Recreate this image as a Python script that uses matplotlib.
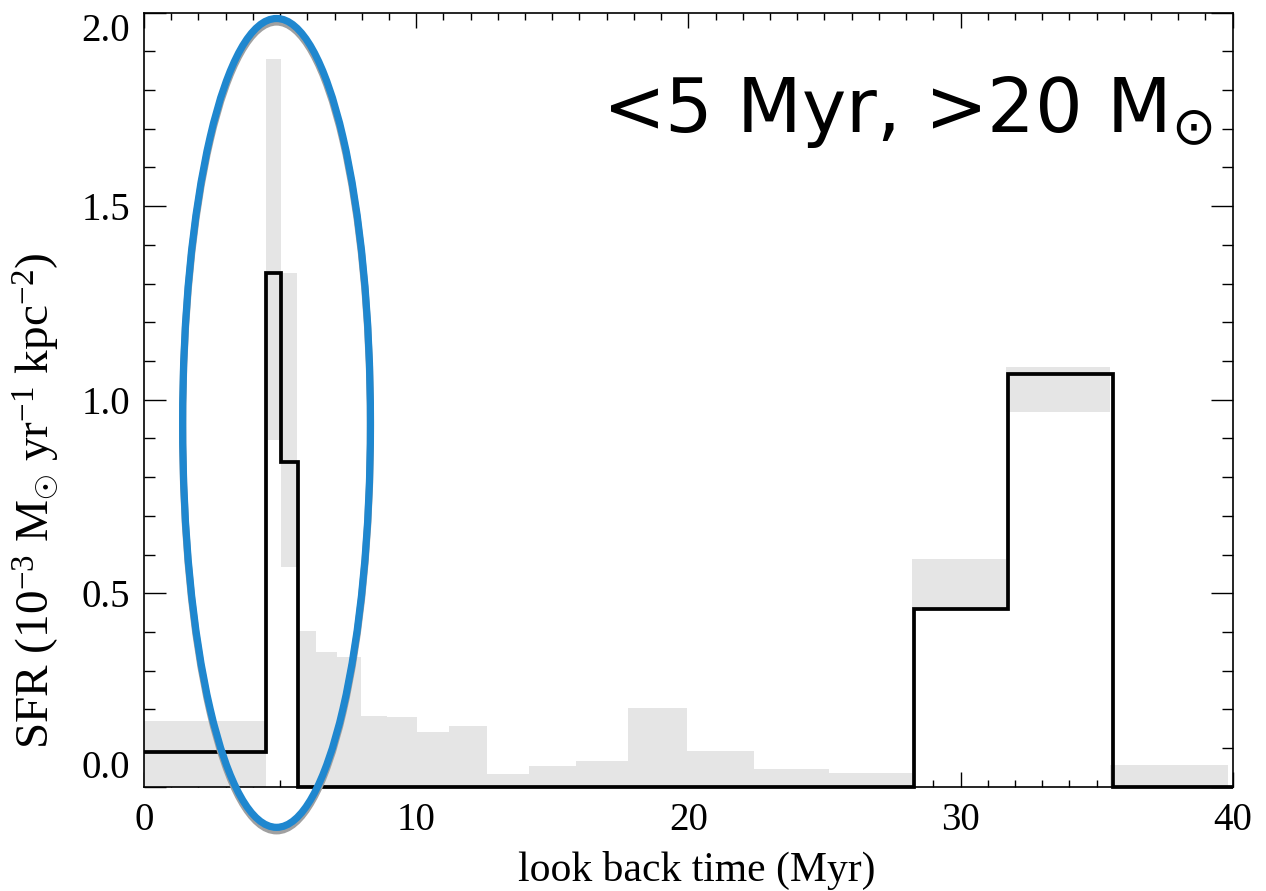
import numpy as np
import matplotlib
matplotlib.use("Agg")
import matplotlib.pyplot as plt
from matplotlib.patches import Ellipse
from matplotlib.ticker import MultipleLocator

# ---- data ----
# grey band: bin edges (Myr) with lower / upper SFR
grey_edges = [0.0, 4.48, 5.04, 5.62, 6.31, 7.08, 7.96, 8.92, 10.02, 11.22, 12.59,
              14.15, 15.88, 17.79, 19.96, 22.43, 25.15, 28.22, 31.68, 35.5, 39.84]
grey_lo = [0.0, 0.896, 0.567, 0.0, 0.0, 0.0, 0.0, 0.0, 0.0, 0.0,
           0.0, 0.0, 0.0, 0.0, 0.0, 0.0, 0.0, 0.461, 0.969, 0.0]
grey_hi = [0.17, 1.88, 1.327, 0.402, 0.347, 0.334, 0.183, 0.180, 0.141, 0.158,
           0.033, 0.053, 0.066, 0.203, 0.092, 0.046, 0.036, 0.588, 1.085, 0.056]

# black step histogram
step_edges = [0.0, 4.48, 5.05, 5.64, 28.28, 31.75, 35.6, 40.0]
step_vals = [0.089, 1.328, 0.84, 0.0, 0.458, 1.066, 0.0]

# highlighted region (ellipse): centre, width, height in data units
ell_center = (4.87, 0.94)
ell_width = 6.9
ell_height = 2.09

title_text = r'<5 Myr, >20 M$_{\odot}$'
xlabel = 'look back time (Myr)'
ylabel = (r'SFR (10$^{\mathrm{-3}}$ M$_{\odot}$ yr$^{\mathrm{-1}}$ '
          r'kpc$^{\mathrm{-2}}$)')
xticks = [0, 10, 20, 30, 40]
yticks = [0.0, 0.5, 1.0, 1.5, 2.0]

# ---- style ----
plt.rcParams['font.family'] = ['Liberation Serif', 'DejaVu Serif']
plt.rcParams['mathtext.fontset'] = 'custom'
plt.rcParams['mathtext.rm'] = 'Liberation Serif'
plt.rcParams['mathtext.it'] = 'Liberation Serif:italic'
plt.rcParams['mathtext.bf'] = 'Liberation Serif:bold'

W, H = 1266, 891
fig = plt.figure(figsize=(W / 100, H / 100), dpi=100)
ax = fig.add_axes([144 / W, 1 - 786.7 / H, (1232.7 - 144) / W, (786.7 - 12.7) / H])

ax.set_xlim(0, 40)
ax.set_ylim(0, 2.0)

edges = np.array(grey_edges)
lo = np.array(grey_lo)
hi = np.array(grey_hi)
ax.bar(edges[:-1], hi - lo, width=np.diff(edges), bottom=lo, align='edge',
       color='#e5e5e5', edgecolor='none', linewidth=0, zorder=1)

ax.stairs(step_vals, step_edges, color='black', linewidth=2.7, zorder=3,
          clip_on=False, baseline=None)

ax.set_axisbelow(True)

# ellipse with grey shadow
shadow = Ellipse((ell_center[0], ell_center[1] - 0.009), ell_width, ell_height,
                 fill=False, edgecolor='#a0a0a0', linewidth=5.2, clip_on=False, zorder=4)
ax.add_patch(shadow)
ell = Ellipse(ell_center, ell_width, ell_height, fill=False, edgecolor='#1f87cf',
              linewidth=5.2, clip_on=False, zorder=5)
ax.add_patch(ell)

# ticks
ax.set_xticks(xticks)
ax.set_yticks(yticks)
ax.set_xticklabels([str(v) for v in xticks])
ax.set_yticklabels([f'{v:.1f}' for v in yticks])
ax.xaxis.set_minor_locator(MultipleLocator(1))
ax.yaxis.set_minor_locator(MultipleLocator(0.1))
ax.tick_params(axis='x', which='major', direction='in', length=11, width=1.0,
               top=True, bottom=True, labelsize=28, pad=11)
ax.tick_params(axis='x', which='minor', direction='in', length=5, width=1.0,
               top=True, bottom=True)
ax.tick_params(axis='y', which='major', direction='in', length=16, width=1.0,
               left=True, right=True, labelsize=28, pad=10)
ax.tick_params(axis='y', which='minor', direction='in', length=8, width=1.0,
               left=True, right=True)
for s in ax.spines.values():
    s.set_linewidth(1.2)

ylabs = ax.get_yticklabels()
ylabs[0].set_va('bottom')
ylabs[-1].set_va('top')

ax.set_xlabel(xlabel, fontsize=30)
ax.xaxis.set_label_coords(0.508, -0.083)
ax.set_ylabel(ylabel, fontsize=34)
ax.yaxis.set_label_coords(-0.075, 0.37)

fig.text(602 / W, 1 - 132 / H, title_text, fontsize=54, family='DejaVu Sans',
         math_fontfamily='dejavusans', ha='left', va='baseline')

fig.savefig('out.png', dpi=100)
